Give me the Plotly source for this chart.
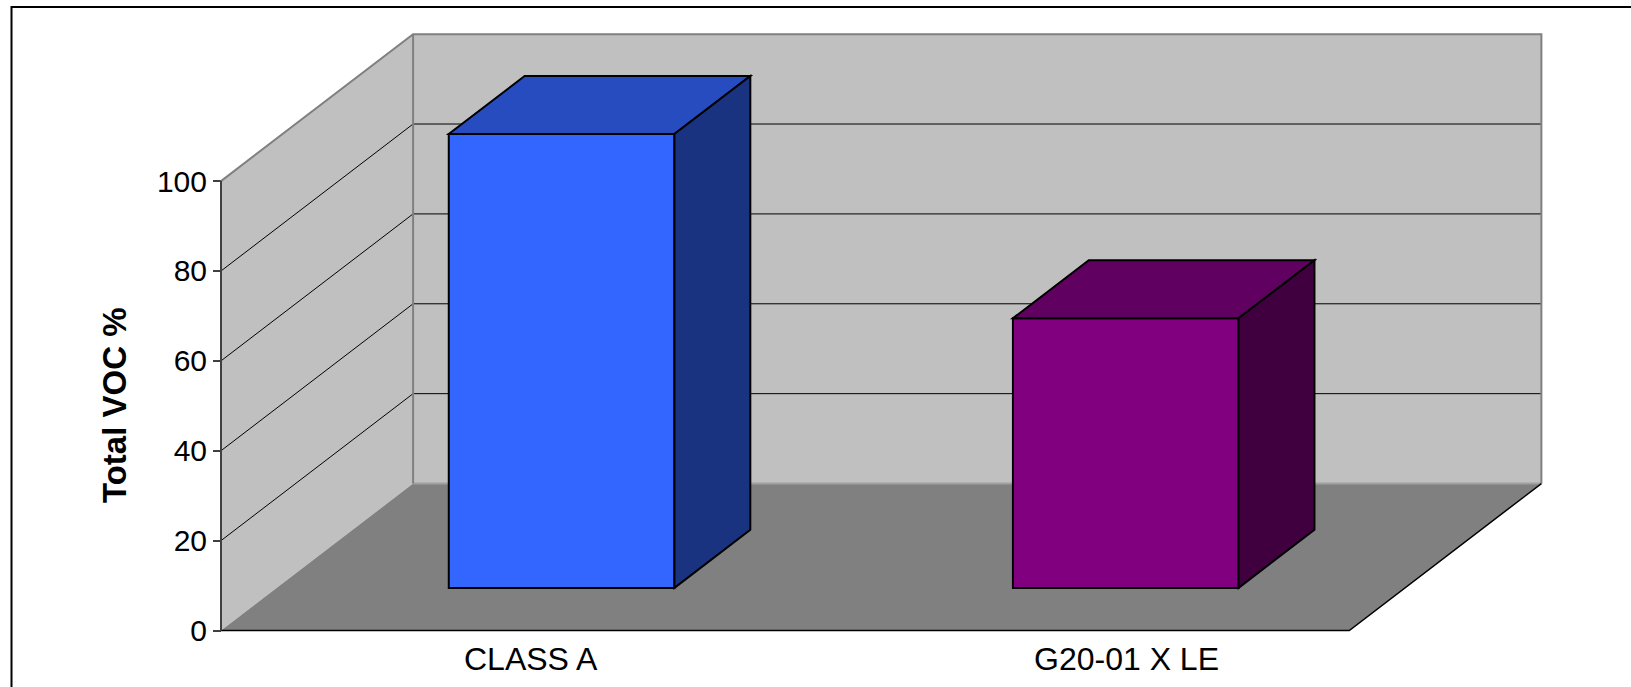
import plotly.graph_objects as go

# ---- data -------------------------------------------------------------
categories = ["CLASS A", "G20-01 X LE"]
voc_values = [101, 60]
y_ticks = [0, 20, 40, 60, 80, 100]
axis_title = "Total VOC %"

# ---- styling ----------------------------------------------------------
front_colors = ["#3366FF", "#800080"]
top_colors = ["#264CBF", "#600060"]
side_colors = ["#1A3380", "#400040"]
WALL = "#C0C0C0"
FLOOR = "#808080"
EDGE = "#808080"
FONT = "Liberation Sans, Arial, sans-serif"

W, H = 1631, 687

# ---- oblique 3-D frame (data units) -----------------------------------
VMAX = 100
DX = 0.3405          # depth offset along the category axis
DY = 32.7            # depth offset along the value axis
BAR_HALF = 0.2       # half bar width in category units
BAR_SHIFT = 0.005    # small sideways nudge of the bar columns
D_FRONT, D_BACK = 0.29, 0.685   # bar depth span (0 = front, 1 = back wall)
X_LEFT, X_RIGHT = -0.5, len(categories) - 0.5
LABEL_SHIFT = [0.05, 0.105]

# axis ranges so that the category / value scales fill the canvas
PX_PER_CAT = 564.15
PX_PER_VAL = 4.494
AXIS_PX = 221.0
FLOOR_PX = 630.5
x_min = X_LEFT - AXIS_PX / PX_PER_CAT
x_max = x_min + W / PX_PER_CAT
y_max = FLOOR_PX / PX_PER_VAL
y_min = y_max - H / PX_PER_VAL


def proj(x, v, d):
    """Project a point (category x, value v, depth d) onto the chart plane."""
    return x + d * DX, v + d * DY


def path(points, close=True):
    pts = [proj(*p) for p in points]
    s = "M " + " L ".join(f"{x:.5f},{y:.5f}" for x, y in pts)
    return s + (" Z" if close else "")


shapes = []


def face(points, fill, line_color=None, line_width=0):
    shapes.append(dict(
        type="path", xref="x", yref="y", path=path(points),
        fillcolor=fill, layer="above",
        line=dict(color=line_color or fill, width=line_width),
    ))


def line(points, color, width):
    shapes.append(dict(
        type="path", xref="x", yref="y", path=path(points, close=False),
        layer="above", line=dict(color=color, width=width),
    ))


# walls and floor
face([(X_LEFT, 0, 0), (X_LEFT, 0, 1), (X_LEFT, VMAX, 1), (X_LEFT, VMAX, 0)], WALL)
face([(X_LEFT, 0, 1), (X_RIGHT, 0, 1), (X_RIGHT, VMAX, 1), (X_LEFT, VMAX, 1)], WALL)
face([(X_LEFT, 0, 0), (X_RIGHT, 0, 0), (X_RIGHT, 0, 1), (X_LEFT, 0, 1)], FLOOR)

# gridlines on side and back walls
for v in y_ticks:
    if 0 < v < VMAX:
        line([(X_LEFT, v, 0), (X_LEFT, v, 1), (X_RIGHT, v, 1)], "#000000", 1)

# wall edges
line([(X_LEFT, 0, 1), (X_RIGHT, 0, 1)], "#A0A0A0", 2)
line([(X_LEFT, VMAX, 0), (X_LEFT, VMAX, 1), (X_RIGHT, VMAX, 1), (X_RIGHT, 0, 1)], EDGE, 2)
line([(X_LEFT, 0, 1), (X_LEFT, VMAX, 1)], EDGE, 2)
line([(X_LEFT, 0, 0), (X_RIGHT, 0, 0), (X_RIGHT, 0, 1)], "#000000", 1.5)
line([(X_LEFT, 0, 0), (X_LEFT, VMAX, 0)], "#404040", 2)

# bars: front, top and right side faces
for i, v in enumerate(voc_values):
    x0, x1 = i + BAR_SHIFT - BAR_HALF, i + BAR_SHIFT + BAR_HALF
    face([(x0, 0, D_FRONT), (x1, 0, D_FRONT), (x1, v, D_FRONT), (x0, v, D_FRONT)],
         front_colors[i], "#000000", 2)
    face([(x0, v, D_FRONT), (x1, v, D_FRONT), (x1, v, D_BACK), (x0, v, D_BACK)],
         top_colors[i], "#000000", 2)
    face([(x1, 0, D_FRONT), (x1, 0, D_BACK), (x1, v, D_BACK), (x1, v, D_FRONT)],
         side_colors[i], "#000000", 2)

# outer chart border
shapes.append(dict(type="rect", xref="paper", yref="paper",
                   x0=11.5 / W, x1=1.02, y0=-0.02, y1=1 - 7 / H,
                   line=dict(color="#000000", width=2), layer="above"))

annotations = [
    dict(text=f"<b>{axis_title}</b>", xref="paper", yref="paper",
         x=114 / W, y=1 - 405 / H, textangle=-90, showarrow=False,
         font=dict(family=FONT, size=33, color="#000000"),
         xanchor="center", yanchor="middle"),
]
for i, name in enumerate(categories):
    annotations.append(dict(
        text=name, xref="x", yref="y", x=i + LABEL_SHIFT[i], y=-6.3,
        showarrow=False, xanchor="center", yanchor="middle",
        font=dict(family=FONT, size=32, color="#000000"),
    ))

fig = go.Figure(go.Scatter(x=[], y=[], showlegend=False))
fig.update_layout(
    width=W, height=H,
    margin=dict(l=0, r=0, t=0, b=0),
    paper_bgcolor="#FFFFFF", plot_bgcolor="#FFFFFF",
    showlegend=False,
    shapes=shapes,
    annotations=annotations,
    xaxis=dict(range=[x_min, x_max], visible=False, fixedrange=True),
    yaxis=dict(
        range=[y_min, y_max], anchor="free", position=AXIS_PX / W,
        tickvals=y_ticks, ticks="outside", ticklen=8, tickwidth=1.5,
        tickcolor="#404040", showline=False, showgrid=False, zeroline=False,
        tickfont=dict(family=FONT, size=30, color="#000000"),
        fixedrange=True,
    ),
)

fig.write_html("out.html")
